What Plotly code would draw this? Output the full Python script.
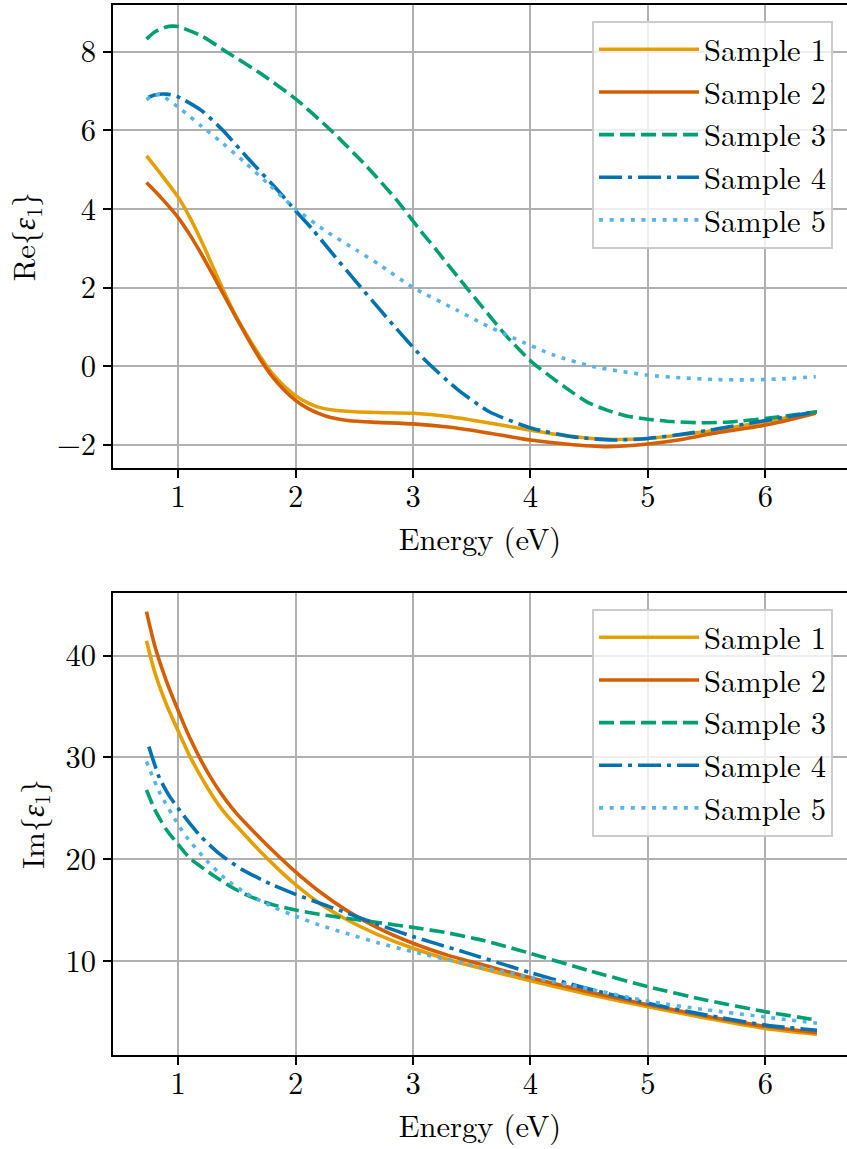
import plotly.graph_objects as go

# ---------------- data ----------------
names = ["Sample 1", "Sample 2", "Sample 3", "Sample 4", "Sample 5"]

# Re{eps1}
re_x1 = [0.73, 0.85, 1.0, 1.1, 1.2, 1.3, 1.4, 1.5, 1.6, 1.7, 1.8, 1.9, 2.0, 2.1, 2.2, 2.3, 2.5, 2.7, 3.0, 3.3, 3.6, 4.0, 4.3, 4.65, 5.0, 5.3, 5.6, 6.0, 6.2, 6.43]
re_y1 = [5.35, 4.9, 4.3, 3.78, 3.17, 2.5, 1.83, 1.23, 0.71, 0.24, -0.18, -0.5, -0.75, -0.93, -1.05, -1.11, -1.16, -1.18, -1.2, -1.28, -1.42, -1.63, -1.77, -1.86, -1.84, -1.74, -1.62, -1.41, -1.3, -1.16]
re_x2 = [0.73, 0.85, 1.0, 1.1, 1.2, 1.3, 1.4, 1.5, 1.6, 1.7, 1.8, 1.9, 2.0, 2.1, 2.2, 2.3, 2.46, 2.7, 3.0, 3.3, 3.6, 4.0, 4.3, 4.65, 5.0, 5.3, 5.56, 6.0, 6.2, 6.43]
re_y2 = [4.67, 4.3, 3.78, 3.34, 2.84, 2.3, 1.75, 1.2, 0.67, 0.17, -0.26, -0.6, -0.87, -1.07, -1.21, -1.31, -1.39, -1.43, -1.47, -1.55, -1.68, -1.88, -1.98, -2.05, -1.98, -1.86, -1.71, -1.5, -1.37, -1.2]
re_x3 = [0.73, 0.8, 0.9, 0.95, 1.0, 1.2, 1.41, 1.7, 2.0, 2.3, 2.6, 2.86, 3.06, 3.2, 3.4, 3.6, 3.8, 4.01, 4.2, 4.31, 4.48, 4.65, 4.82, 5.0, 5.2, 5.44, 5.7, 6.01, 6.2, 6.44]
re_y3 = [8.32, 8.5, 8.63, 8.65, 8.64, 8.4, 8.0, 7.45, 6.8, 6.0, 5.1, 4.23, 3.46, 2.95, 2.2, 1.47, 0.75, 0.11, -0.33, -0.57, -0.91, -1.12, -1.27, -1.35, -1.41, -1.44, -1.42, -1.33, -1.26, -1.16]
re_x4 = [0.745, 0.8, 0.9, 1.0, 1.2, 1.38, 1.6, 1.87, 1.98, 2.15, 2.29, 2.5, 2.72, 2.83, 3.1, 3.37, 3.65, 4.01, 4.37, 4.7, 5.0, 5.3, 5.56, 6.01, 6.2, 6.44]
re_y4 = [6.84, 6.9, 6.92, 6.85, 6.5, 6.0, 5.27, 4.4, 4.02, 3.46, 2.95, 2.2, 1.43, 1.05, 0.16, -0.57, -1.16, -1.58, -1.8, -1.88, -1.84, -1.73, -1.61, -1.38, -1.28, -1.16]
re_x5 = [0.73, 0.8, 0.85, 1.03, 1.2, 1.38, 1.58, 1.78, 1.98, 2.25, 2.52, 2.72, 3.0, 3.37, 3.6, 3.86, 4.2, 4.53, 5.0, 5.3, 5.56, 5.84, 6.1, 6.43]
re_y5 = [6.78, 6.9, 6.9, 6.52, 6.1, 5.67, 5.15, 4.6, 4.05, 3.45, 2.95, 2.57, 2.0, 1.43, 1.07, 0.71, 0.28, -0.01, -0.23, -0.3, -0.34, -0.35, -0.33, -0.27]

# Im{eps1}
im_x1 = [0.73, 0.8, 0.9, 1.0, 1.1, 1.2, 1.3, 1.4, 1.55, 1.7, 1.85, 2.0, 2.2, 2.43, 2.7, 3.0, 3.3, 3.57, 4.0, 4.5, 5.0, 5.5, 6.0, 6.44]
im_y1 = [41.47, 38.4, 35.2, 32.6, 30.1, 28.0, 26.1, 24.5, 22.6, 20.75, 19.05, 17.5, 15.7, 14.1, 12.6, 11.25, 10.15, 9.3, 8.05, 6.72, 5.5, 4.38, 3.38, 2.8]
im_x2 = [0.73, 0.8, 0.9, 1.0, 1.1, 1.2, 1.3, 1.4, 1.5, 1.64, 1.8, 2.0, 2.2, 2.43, 2.7, 3.0, 3.3, 3.57, 4.0, 4.5, 5.0, 5.5, 6.0, 6.44]
im_y2 = [44.32, 41.0, 37.5, 34.6, 31.9, 29.6, 27.6, 25.9, 24.45, 22.75, 20.9, 18.75, 16.85, 15.0, 13.25, 11.74, 10.55, 9.7, 8.35, 6.95, 5.7, 4.58, 3.58, 2.95]
im_x3 = [0.73, 0.8, 0.9, 1.0, 1.1, 1.3, 1.45, 1.6, 1.8, 2.0, 2.2, 2.43, 2.7, 3.0, 3.3, 3.57, 3.8, 4.0, 4.5, 5.0, 5.5, 6.0, 6.44]
im_y3 = [26.8, 24.9, 22.9, 21.45, 20.1, 18.4, 17.3, 16.4, 15.55, 15.0, 14.6, 14.2, 13.78, 13.3, 12.75, 12.1, 11.4, 10.75, 9.05, 7.47, 6.15, 5.02, 4.2]
im_x4 = [0.75, 0.84, 0.92, 1.0, 1.1, 1.2, 1.35, 1.55, 1.8, 2.0, 2.2, 2.43, 2.7, 3.0, 3.4, 3.57, 4.0, 4.5, 5.0, 5.5, 6.0, 6.44]
im_y4 = [31.06, 28.0, 26.3, 25.0, 23.5, 22.15, 20.55, 18.95, 17.5, 16.55, 15.7, 14.75, 13.6, 12.4, 11.0, 10.4, 8.85, 7.25, 5.84, 4.68, 3.7, 3.2]
im_x5 = [0.73, 0.84, 1.0, 1.07, 1.24, 1.4, 1.58, 1.8, 2.0, 2.2, 2.43, 2.7, 3.0, 3.4, 3.7, 4.0, 4.5, 5.0, 5.5, 6.0, 6.44]
im_y5 = [29.6, 26.6, 23.4, 22.2, 19.9, 18.1, 16.65, 15.35, 14.4, 13.55, 12.72, 11.8, 10.9, 9.85, 9.1, 8.4, 7.25, 6.05, 5.2, 4.5, 3.88]

x_ticks = [1, 2, 3, 4, 5, 6]
re_ticks = [-2, 0, 2, 4, 6, 8]
im_ticks = [10, 20, 30, 40]

colors = ["#E69F00", "#D55E00", "#009E73", "#0072B2", "#56B4E9"]
dashes = ["solid", "solid", "15px,6px", "23px,6px,4px,6px", "4px,6.6px"]

re_series = [(re_x1, re_y1), (re_x2, re_y2), (re_x3, re_y3), (re_x4, re_y4), (re_x5, re_y5)]
im_series = [(im_x1, im_y1), (im_x2, im_y2), (im_x3, im_y3), (im_x4, im_y4), (im_x5, im_y5)]

FONT = "Latin Modern Roman"
FS = 30.5

fig = go.Figure()
for i, (xs, ys) in enumerate(re_series):
    fig.add_trace(go.Scatter(x=xs, y=ys, mode="lines", name=names[i],
                             line=dict(color=colors[i], width=3.6, dash=dashes[i],
                                       shape="spline", smoothing=0.6),
                             xaxis="x", yaxis="y", legend="legend"))
for i, (xs, ys) in enumerate(im_series):
    fig.add_trace(go.Scatter(x=xs, y=ys, mode="lines", name=names[i],
                             line=dict(color=colors[i], width=3.6, dash=dashes[i],
                                       shape="spline", smoothing=0.6),
                             xaxis="x2", yaxis="y2", legend="legend2"))

axis_common = dict(showline=True, linecolor="black", linewidth=2,
                   ticks="outside", ticklen=8, tickwidth=2, tickcolor="black",
                   showgrid=True, gridcolor="#b0b0b0", gridwidth=1.6,
                   zeroline=False, tickfont=dict(family=FONT, size=FS, color="black"))
xaxis_extra = dict(ticklabelstandoff=-8)
yaxis_extra = dict(ticklabelstandoff=1)

xr = [0.445, 6.696]
legend_common = dict(xanchor="right", yanchor="top",
                     bgcolor="rgba(255,255,255,0.8)", bordercolor="#cccccc", borderwidth=2,
                     font=dict(family=FONT, size=FS, color="black"), itemwidth=100,
                     traceorder="normal")
fig.update_layout(
    width=847, height=1149,
    margin=dict(l=113, r=0, t=5, b=94),
    plot_bgcolor="white", paper_bgcolor="white",
    font=dict(family=FONT, size=FS, color="black"),
    xaxis=dict(domain=[0, 1], anchor="y", range=xr, tickvals=x_ticks, mirror=True,
               title=dict(text="Energy (eV)", standoff=9, font=dict(family=FONT, size=FS)),
               **axis_common, **xaxis_extra),
    yaxis=dict(domain=[0.559, 1], anchor="x", range=[-2.593, 9.188], tickvals=re_ticks,
               title=dict(text="Re{<i>ε</i><sub>1</sub>}", standoff=12, font=dict(family=FONT, size=FS)),
               **axis_common, **yaxis_extra),
    xaxis2=dict(domain=[0, 1], anchor="y2", range=xr, tickvals=x_ticks, mirror=True,
                title=dict(text="Energy (eV)", standoff=9, font=dict(family=FONT, size=FS)),
                **axis_common, **xaxis_extra),
    yaxis2=dict(domain=[0, 0.4403], anchor="x2", range=[0.763, 46.19], tickvals=im_ticks,
                title=dict(text="Im{<i>ε</i><sub>1</sub>}", standoff=12, font=dict(family=FONT, size=FS)),
                **axis_common, **yaxis_extra),
    legend=dict(x=0.981, y=0.9848, **legend_common),
    legend2=dict(x=0.981, y=0.4248, **legend_common),
)

fig.write_html("out.html")
